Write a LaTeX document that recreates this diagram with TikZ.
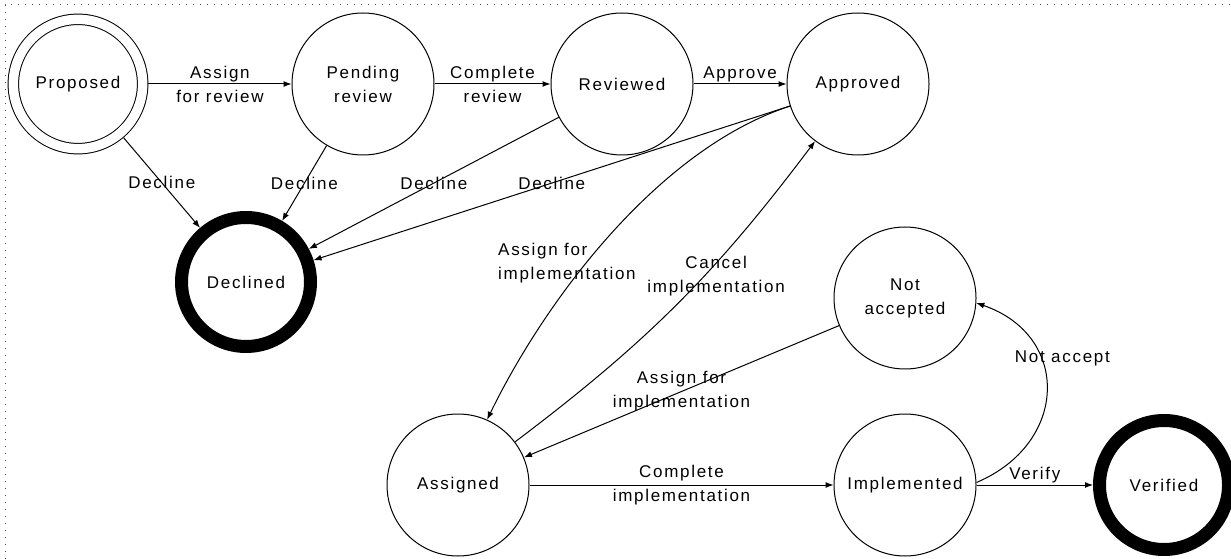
\documentclass[tikz,border=0pt]{standalone}
\usepackage{fontspec}
\setmainfont{Liberation Sans}[LetterSpace=10]
\usetikzlibrary{arrows.meta}
\tikzset{every picture/.style={line width=0.75pt}}
\newcommand{\statefont}{\fontsize{12.75}{18}\selectfont}
\tikzset{
  state/.style={draw, circle, minimum size=106.5pt, inner sep=0pt, align=center, font=\statefont},
  startstate/.style={state, double, double distance=7.1pt, minimum size=97pt, outer sep=4.3pt},
  endstate/.style={state, line width=9.75pt, minimum size=96.75pt},
  trans/.style={-{Latex[length=6pt,width=4.5pt]}},
  lbl/.style={inner sep=0.75pt, align=center, font=\statefont},
  frame/.style={black!70, dash pattern=on 0.75pt off 4.5pt}
}

\begin{document}
\begin{tikzpicture}[x=0.75pt,y=0.75pt,yscale=-1,xscale=1]
\useasboundingbox (0,0) rectangle (1231,559);

%Dotted frame
\draw[frame] (5,559) -- (5,5) -- (1231,5);

%Shape: Circle
\node[startstate] (proposed) at (78,84) {Proposed};
\node[state] (pending) at (363,84) {Pending\\review};
\node[state] (reviewed) at (622,84) {Reviewed};
\node[state] (approved) at (858,84) {Approved};
\node[endstate] (declined) at (246,282) {Declined};
\node[state] (notacc) at (905,298) {Not\\accepted};
\node[state] (assigned) at (458,485) {Assigned};
\node[state] (implemented) at (905,485) {Implemented};
\node[endstate] (verified) at (1164,485) {Verified};

%Straight Lines
\draw[trans] (proposed) -- node[lbl] (l-assrev) {Assign\\for review} (pending);
\draw[trans] (pending) -- node[lbl] (l-comprev) {Complete\\review} (reviewed);
\draw[trans] (reviewed) -- node[lbl, above] (l-approve) {Approve} (approved);
\draw[trans] (proposed) -- node[lbl] (l-dec1) {Decline} (declined);
\draw[trans] (pending) -- node[lbl] (l-dec2) {Decline} (declined);
\draw[trans] (reviewed) -- node[lbl] (l-dec3) {Decline} (declined);
\draw[trans] (approved) -- node[lbl] (l-dec4) {Decline} (declined);
\draw[trans] (notacc) -- node[lbl] (l-reass) {Assign for\\implementation} (assigned);
\draw[trans] (assigned) -- node[lbl] (l-compimp) {Complete\\implementation} (implemented);
\draw[trans] (implemented) -- node[lbl, above] (l-verify) {Verify} (verified);

%Curve Lines (y is flipped: out/in run clockwise, node anchors do not)
\draw[trans] (approved.198) to[out=162, in=-64, looseness=0.8]
  node[lbl, align=left, pos=0.585, xshift=-14.7pt] (l-assimp) {Assign for\\implementation} (assigned.66);
\draw[trans] (assigned) to[bend left=8]
  node[lbl, pos=0.6, xshift=8.75pt] (l-cancel) {Cancel\\implementation} (approved);
\draw[trans] (implemented.2) to[out=-23, in=19, looseness=1.43]
  node[lbl, pos=0.65, xshift=16.5pt] (l-notacc) {Not accept} (notacc.-4);

\end{tikzpicture}
\end{document}
